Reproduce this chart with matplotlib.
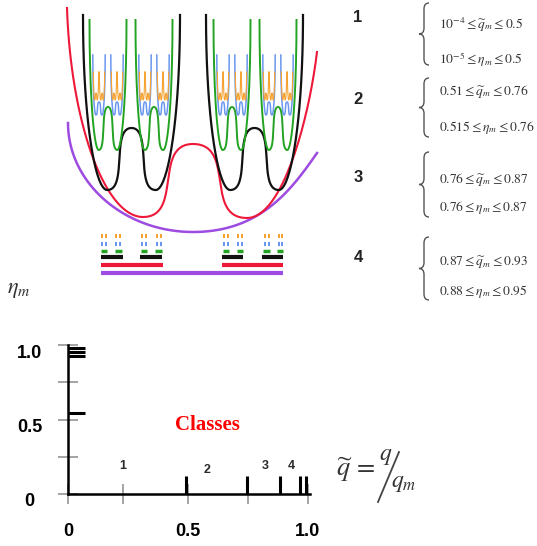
import numpy as np
import matplotlib
matplotlib.use("Agg")
import matplotlib.pyplot as plt
from matplotlib.path import Path
from matplotlib.patches import PathPatch
from matplotlib.transforms import ScaledTranslation

plt.rcParams["mathtext.fontset"] = "stix"
plt.rcParams["font.family"] = ["Liberation Sans", "DejaVu Sans"]

W, H = 537, 546   # figure size in px

# ---------------------------------------------------------------------------
# top sketch: nested multi-well landscape (x = configuration, E = energy)
purple_knots = [(68, 167), (193, 58), (317, 137)]
red_knots = [(67, 282), (143, 73), (193, 146), (247, 72), (317, 238)]

black_centers = [131.5, 254.5]
green_centers = [108, 154, 232, 278]
blue_centers = [99, 117, 145, 163, 223, 241, 269, 287]
orange_centers = [96, 102, 114, 120, 142, 148, 160, 166,
                  220, 226, 238, 244, 266, 272, 284, 290]

# (half width, top, bottom, hump) of one double well at each level
black_shape = (48.5, 275, 100, 162)
green_shape = (18.5, 270, 140, 183)
blue_shape = (6.2, 235, 175, 188)
orange_shape = (2.6, 218, 190, 197)

# Cantor-like bars under the sketch
purple_bars = [(101, 283)]
red_bars = [(101, 163), (222, 283)]
black_bars = [(101, 123), (140, 162), (222, 243), (262, 283)]
green_bars = [(101, 107.5), (115, 122), (141, 147), (155, 162),
              (223, 228.5), (237, 243), (263, 270), (277, 283)]
blue_marks = [102.5, 106.5, 116.5, 120.5, 142, 146, 156.5, 160.5,
              224, 228, 238, 242, 264.5, 268.5, 278.5, 282]
orange_marks = [102.5, 106.5, 116.5, 120.5, 142, 146, 156.5, 160.5,
                224, 228, 238, 242, 264.5, 268.5, 278.5, 282]

# class table on the right
class_names = ["1", "2", "3", "4"]
q_low = [1e-4, 0.51, 0.76, 0.87]
q_high = [0.5, 0.76, 0.87, 0.93]
eta_low = [1e-5, 0.515, 0.76, 0.88]
eta_high = [0.5, 0.76, 0.87, 0.95]

# bottom chart
q_marks = [0.49, 0.745, 0.885, 0.965, 0.99]
eta_marks = [0.545, 0.925, 0.95, 0.977]
class_label_q = [0.23, 0.58, 0.82, 0.93]
class_label_eta = [0.19, 0.16, 0.19, 0.19]

PURPLE = "#9d4be0"
RED = "#ee1838"
BLACK = "#111111"
GREEN = "#22a322"
BLUE = "#6b97ee"
ORANGE = "#f5a332"


def bezier(p0, p1, p2, p3, n=40):
    t = np.linspace(0, 1, n)[:, None]
    return ((1 - t) ** 3 * p0 + 3 * (1 - t) ** 2 * t * p1
            + 3 * (1 - t) * t ** 2 * p2 + t ** 3 * p3)


def well_curve(knots, end_l=(0, 0.55), end_r=(0, 0.55), k_wall=0.5, k_mid=0.8):
    """Smooth curve through top / min / hump / min / top knots."""
    pts = [np.array(k, float) for k in knots]
    last = len(pts) - 1

    def handle(i, j):
        if i == 0:
            return np.array(end_l)
        if i == last:
            return np.array(end_r)
        k = k_wall if j in (0, last) else k_mid
        return np.array([k, 0.0])

    segs = []
    for i in range(last):
        a, b = pts[i], pts[i + 1]
        d = b - a
        segs.append(bezier(a, a + handle(i, i + 1) * d, b - handle(i + 1, i) * d, b))
    return np.vstack(segs)


def double_well(c, shape):
    w, top, lo, hump = shape
    return [(c - w, top), (c - w / 2, lo), (c, hump), (c + w / 2, lo), (c + w, top)]


fig = plt.figure(figsize=(W / 100, H / 100), dpi=100)

# overlay in pixel units for the annotations
ov = fig.add_axes([0, 0, 1, 1])
ov.set_xlim(0, W)
ov.set_ylim(H, 0)
ov.axis("off")

# ---- top sketch ----
ax = fig.add_axes([60 / W, 1 - 290 / H, 270 / W, 290 / H])
ax.set_xlim(60, 330)
ax.set_ylim(0, 290)
ax.axis("off")

xy = well_curve(purple_knots, end_l=(0, 0.55), end_r=(0.2, 0.45), k_wall=0.55)
ax.plot(xy[:, 0], xy[:, 1], color=PURPLE, lw=1.8)
xy = well_curve(red_knots, end_l=(0.05, 0.55), end_r=(0.12, 0.42), k_wall=0.5)
ax.plot(xy[:, 0], xy[:, 1], color=RED, lw=1.5)

levels = [(black_centers, black_shape, BLACK, 1.6, 0.6, 0.85),
          (green_centers, green_shape, GREEN, 1.4, 0.6, 0.8),
          (blue_centers, blue_shape, BLUE, 1.1, 0.6, 0.8),
          (orange_centers, orange_shape, ORANGE, 0.8, 0.6, 0.8)]
for centers, shape, col, lw, kt, km in levels:
    for c in centers:
        xy = well_curve(double_well(c, shape), end_l=(0, kt), end_r=(0, kt),
                        k_wall=0.5, k_mid=km)
        ax.plot(xy[:, 0], xy[:, 1], color=col, lw=lw)

bar_rows = [(purple_bars, 17, PURPLE, 3.0), (red_bars, 25, RED, 3.0),
            (black_bars, 33, BLACK, 3.0), (green_bars, 39, GREEN, 2.5)]
for bars, e, col, lw in bar_rows:
    ax.hlines([e] * len(bars), [b[0] for b in bars], [b[1] for b in bars],
              color=col, lw=lw)
ax.hlines([46] * len(blue_marks), np.array(blue_marks) - 1, np.array(blue_marks) + 1,
          color=BLUE, lw=3.0)
ax.hlines([54] * len(orange_marks), np.array(orange_marks) - 1, np.array(orange_marks) + 1,
          color=ORANGE, lw=3.0)

# ---- class table ----
def fmt(v):
    if v < 0.01:
        return r"10^{%d}" % int(round(np.log10(v)))
    return f"{v:g}"


def brace(x, y0, y1, w=5, r=6, color="#555555"):
    ym = (y0 + y1) / 2
    verts = [(x + w, y0), (x, y0), (x, y0 + r), (x, ym - r), (x, ym), (x - w, ym),
             (x, ym), (x, ym + r), (x, y1 - r), (x, y1), (x + w, y1)]
    codes = [Path.MOVETO, Path.CURVE3, Path.CURVE3, Path.LINETO, Path.CURVE3, Path.CURVE3,
             Path.CURVE3, Path.CURVE3, Path.LINETO, Path.CURVE3, Path.CURVE3]
    ov.add_patch(PathPatch(Path(verts, codes), fill=False, lw=1.0, color=color))


row_num_y = [18, 100, 178, 258]
row_q_y = [25, 92, 180, 263]
row_eta_y = [60, 128, 208, 292]
brace_y = [(3, 65), (78, 137), (152, 217), (237, 300)]
for i, name in enumerate(class_names):
    ov.text(358, row_num_y[i], name, fontsize=12, fontweight="bold",
            ha="center", va="center", color="#222222")
    brace(424, *brace_y[i])
    ov.text(439, row_q_y[i],
            r"$%s{\leq}\widetilde{q}_m{\leq}%s$" % (fmt(q_low[i]), fmt(q_high[i])),
            fontsize=9.7, ha="left", va="center", color="#333333")
    ov.text(439, row_eta_y[i],
            r"$%s{\leq}\eta_m{\leq}%s$" % (fmt(eta_low[i]), fmt(eta_high[i])),
            fontsize=9.7, ha="left", va="center", color="#333333")

ov.text(19, 290, r"$\eta_m$", fontsize=16, ha="center", va="center", color="#333333")

# ---- bottom chart ----
bx = fig.add_axes([68 / W, (H - 494) / H, 242.4 / W, 149 / H])
bx.set_xlim(0, 1.01)
bx.set_ylim(0, 1)
bx.patch.set_alpha(0)
for s in ("top", "right"):
    bx.spines[s].set_visible(False)
for s in ("left", "bottom"):
    bx.spines[s].set_linewidth(1.8)
bx.spines["left"].set_bounds(0, 1)
bx.spines["bottom"].set_bounds(0, 1.01)

bx.set_xticks([0, 0.5, 1.0], ["0", "0.5", "1.0"])
bx.set_xticks([0.23, 0.75], minor=True)
bx.set_yticks([0, 0.5, 1.0], ["0", "0.5", "1.0"])
bx.set_yticks([0.25, 0.75], minor=True)
bx.tick_params(which="both", direction="inout", length=14, width=1.1, color="#8c8c8c")
bx.tick_params(axis="x", pad=14, labelsize=13)
bx.tick_params(axis="y", pad=20.7, labelsize=13)
shift = ScaledTranslation(0, -0.06, fig.dpi_scale_trans)
for lab in bx.get_yticklabels():
    lab.set_ha("center")
    lab.set_transform(lab.get_transform() + shift)
for lab in bx.get_xticklabels() + bx.get_yticklabels():
    lab.set_fontweight("bold")

bx.vlines(q_marks, 0, 0.12, color="black", lw=2.2)
bx.hlines(eta_marks, 0, 0.07, color="black", lw=2.2)
for name, q, e in zip(class_names, class_label_q, class_label_eta):
    bx.text(q, e, name, fontsize=9, fontweight="bold", ha="center", va="center",
            color="#2a2a2a")
bx.text(0.58, 0.46, "Classes", color="red", fontsize=15, fontweight="bold",
        family="Liberation Serif", ha="center", va="center")

ov.text(336, 470, r"$\widetilde{q}\,=$", fontsize=19, ha="left", va="center", color="#333333")
ov.text(386, 456, r"$q$", fontsize=17, ha="center", va="center", color="#333333")
ov.text(404, 483, r"$q_m$", fontsize=17, ha="center", va="center", color="#333333")
ov.plot([378, 399], [502, 452], color="#444444", lw=1.3)

fig.savefig("out.png", dpi=100)
